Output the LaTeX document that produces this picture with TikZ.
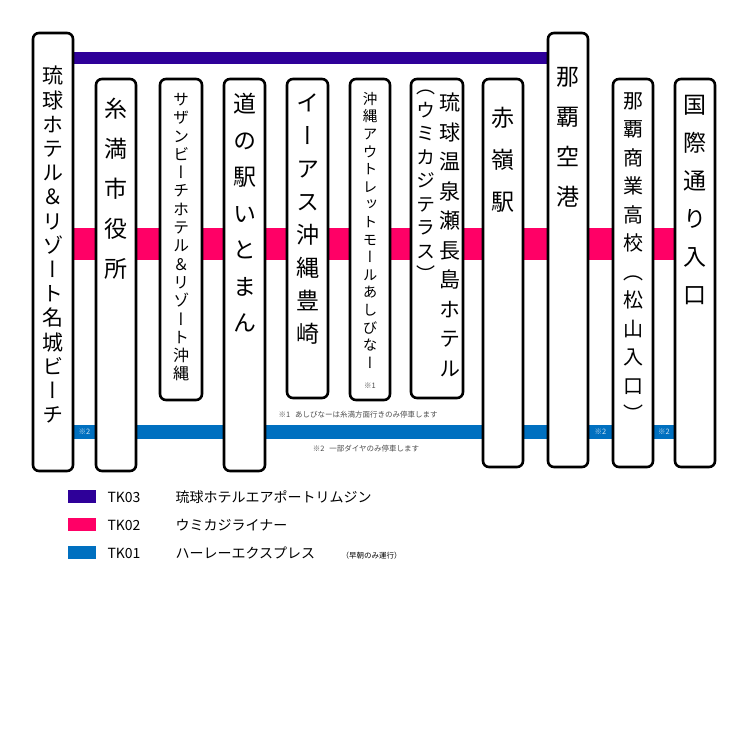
\documentclass[tikz,border=0pt]{standalone}
\usepackage{fontspec}
\newfontfamily\cjk[RawFeature=+vert]{Noto Sans CJK JP}
\newfontfamily\cjkh{Noto Sans CJK JP}
\definecolor{limo}{HTML}{2E0099}
\definecolor{umikaji}{HTML}{FF0066}
\definecolor{harle}{HTML}{0070C0}
\tikzset{
  stopbox/.style={draw=black, line width=2.6pt, rounded corners=6pt, fill=white},
  vtext/.style 2 args={anchor=north, align=center, inner sep=0pt, font={\cjk\fontsize{#1}{#2}\selectfont}},
  note/.style={font={\cjkh\fontsize{7.5}{9}\selectfont}, text=black!70},
  legtext/.style={anchor=west, font={\cjkh\fontsize{14}{16}\selectfont}},
}
\begin{document}
\begin{tikzpicture}[x=1pt, y=-1pt]
\useasboundingbox (0,0) rectangle (751,756);
%%%%% Lines %%%%%
\fill[limo] (73,52) rectangle (548,64);
\fill[umikaji] (73,228) rectangle (715,260);
\fill[harle] (73,425) rectangle (715,439);
\foreach \x in {84.5,600.5,664}{
\node[note, text=white!80!harle] at (\x,432) {※2};
}
%%%%% Stops %%%%%
\draw[stopbox] (33,33) rectangle (73,471);
\draw[stopbox] (96,79) rectangle (136,471);
\draw[stopbox] (160,79) rectangle (202,400);
\draw[stopbox] (224,79) rectangle (265,471);
\draw[stopbox] (287,79) rectangle (328,398);
\draw[stopbox] (350,79) rectangle (390,400);
\draw[stopbox] (411,79) rectangle (463,398);
\draw[stopbox] (483,79) rectangle (523,467);
\draw[stopbox] (548,33) rectangle (588,467);
\draw[stopbox] (613,79) rectangle (653,467);
\draw[stopbox] (675,79) rectangle (715,467);
\node[vtext={21}{24.2}] (meijo) at (53,66) {琉\\球\\ホ\\テ\\ル\\＆\\リ\\ゾ\\ー\\ト\\名\\城\\ビ\\ー\\チ};
\node[vtext={23}{40}] (itoman) at (116,98) {糸\\満\\市\\役\\所};
\node[vtext={16}{18.3}] (southern) at (181,93) {サ\\ザ\\ン\\ビ\\ー\\チ\\ホ\\テ\\ル\\＆\\リ\\ゾ\\ー\\ト\\沖\\縄};
\node[vtext={23}{36.5}] (michinoeki) at (244.5,93) {道\\の\\駅\\い\\と\\ま\\ん};
\node[vtext={23}{33}] (iias) at (307.5,94) {イ\\ー\\ア\\ス\\沖\\縄\\豊\\崎};
\node[vtext={14.5}{17.6}] (ashibinaa) at (370,92) {沖\\縄\\ア\\ウ\\ト\\レ\\ッ\\ト\\モ\\ー\\ル\\あ\\し\\び\\な\\ー};
\node[note] (kome1) at (370,386) {※1};
\node[vtext={21}{29.5}] (senaga) at (450,93) {琉\\球\\温\\泉\\瀬\\長\\島\\ホ\\テ\\ル};
\node[vtext={19}{23.5}] (umikajiterr) at (426,90) {（\\ウ\\ミ\\カ\\ジ\\テ\\ラ\\ス\\）};
\node[vtext={23}{42}] (akamine) at (503,107) {赤\\嶺\\駅};
\node[vtext={23}{40}] (airport) at (568,67) {那\\覇\\空\\港};
\node[vtext={20}{28.5}] (shogyo) at (633,92) {那\\覇\\商\\業\\高\\校\\（\\松\\山\\入\\口\\）};
\node[vtext={23}{38}] (kokusai) at (695,95) {国\\際\\通\\り\\入\\口};
%%%%% Notes %%%%%
\node[note, anchor=west] (note1) at (275,415) {※1\hspace{5pt}あしびなーは糸満方面行きのみ停車します};
\node[note] (note2) at (366,449) {※2\hspace{5pt}一部ダイヤのみ停車します};
%%%%% Legend %%%%%
\fill[limo] (68,490) rectangle (96,503);
\fill[umikaji] (68,518) rectangle (96,531);
\fill[harle] (68,546) rectangle (96,559);
\node[legtext] (tk03) at (104,497) {TK03};
\node[legtext] (tk02) at (104,525) {TK02};
\node[legtext] (tk01) at (104,553) {TK01};
\node[legtext] (limousine) at (172,497) {琉球ホテルエアポートリムジン};
\node[legtext] (liner) at (172,525) {ウミカジライナー};
\node[legtext] (express) at (172,553) {ハーレーエクスプレス};
\node[note, anchor=west, text=black] (soucho) at (338,556) {（早朝のみ運行）};
\end{tikzpicture}
\end{document}
